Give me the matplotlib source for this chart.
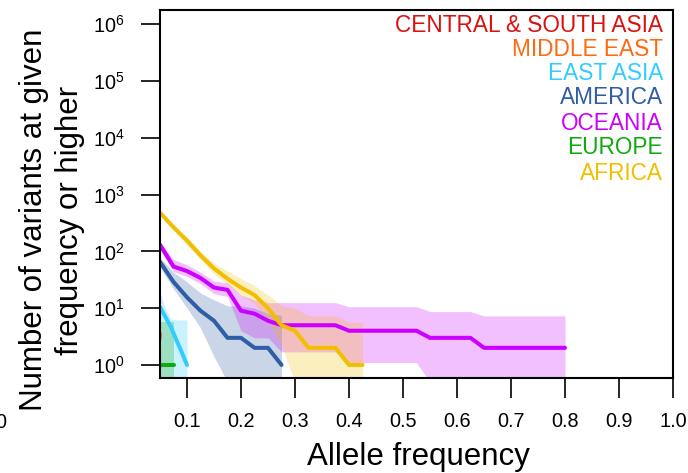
import matplotlib
matplotlib.use("Agg")
import matplotlib.pyplot as plt
import numpy as np

plt.rcParams['font.family'] = ['Liberation Sans', 'DejaVu Sans']
plt.rcParams['mathtext.fontset'] = 'custom'
plt.rcParams['mathtext.rm'] = 'Liberation Sans'
plt.rcParams['mathtext.it'] = 'Liberation Sans:italic'
plt.rcParams['mathtext.bf'] = 'Liberation Sans:bold'

# ---------------- data ----------------
regions = ["CENTRAL & SOUTH ASIA", "MIDDLE EAST", "EAST ASIA", "AMERICA",
           "OCEANIA", "EUROPE", "AFRICA"]
colors = ["#DD1010", "#FF6A10", "#33CCFF", "#2F5DA6", "#CC00FF", "#10AA10", "#F2BE00"]

csa_x, csa_y, csa_hi, csa_lo = [], [], [], []

me_x = [0.05]
me_y = [3.3]

ea_x = [0.05, 0.06, 0.07, 0.08, 0.09, 0.10]
ea_y = [10.5, 7, 4.7, 2.8, 1.7, 1]
ea_hi = [18.5, 10, 6.5, 6.2, 6.2, 6.2]
ea_lo = [0.3, 0.3, 0.3, 0.3, 0.3, 0.3]

am_x = [0.05, 0.075, 0.1, 0.125, 0.15, 0.175, 0.2, 0.225, 0.25, 0.275]
am_y = [65, 29, 15.5, 9, 6, 3, 3, 2, 2, 1]
am_hi = [78, 43, 29, 18.5, 14, 11, 11, 10, 8, 7.5]
am_lo = [52, 22, 10, 4.5, 1.4, 0.5, 0.3, 0.3, 0.3, 0.3]

oc_x = [0.05, 0.075, 0.1, 0.125, 0.15, 0.175, 0.2, 0.225, 0.25, 0.275,
        0.3, 0.325, 0.35, 0.375, 0.4, 0.425, 0.45, 0.475, 0.5, 0.525,
        0.55, 0.575, 0.6, 0.625, 0.65, 0.675, 0.7, 0.725, 0.75, 0.775, 0.8]
oc_y = [130, 54, 45, 34, 23, 21, 9, 8, 6, 5,
        5, 5, 5, 5, 4, 4, 4, 4, 4, 4,
        3, 3, 3, 3, 2, 2, 2, 2, 2, 2, 2]
oc_hi = [150, 72, 58, 43, 30, 28, 17, 14, 12.5, 12.5,
         12.5, 12.5, 12.5, 12.5, 10.6, 10.6, 10.6, 10.6, 10.6, 10.6,
         8.7, 8.7, 8.7, 8.7, 7.3, 7.3, 7.3, 7.3, 7.3, 7.3, 7.3]
oc_lo = [110, 44, 36, 27, 18, 16, 4, 3, 3, 1.7,
         1.7, 1.7, 1.7, 1.7, 1.1, 1.1, 1.1, 1.1, 1.1, 1.1,
         0.5, 0.5, 0.5, 0.5, 0.5, 0.5, 0.5, 0.5, 0.5, 0.5, 0.5]

eu_x = [0.05, 0.075]
eu_y = [1, 1]
eu_hi = [5.8, 5.8]
eu_lo = [0.3, 0.3]

af_x = [0.05, 0.075, 0.1, 0.125, 0.15, 0.175, 0.2, 0.225, 0.25, 0.275,
        0.3, 0.325, 0.35, 0.375, 0.4, 0.425]
af_y = [480, 265, 155, 85, 50, 33, 23, 17, 10, 5, 4, 2, 2, 2, 1, 1]
af_hi = [520, 290, 175, 100, 62, 45, 33, 25, 17, 11, 10, 7.3, 7.3, 7.3, 5.6, 5.6]
af_lo = [440, 240, 130, 72, 40, 26, 17, 12, 6, 2.2, 0.5, 0.3, 0.3, 0.3, 0.3, 0.3]

x_ticks = [0.1, 0.2, 0.3, 0.4, 0.5, 0.6, 0.7, 0.8, 0.9, 1.0]
x_ticklabels = ["0.1", "0.2", "0.3", "0.4", "0.5", "0.6", "0.7", "0.8", "0.9", "1.0"]
y_exps = [0, 1, 2, 3, 4, 5, 6]

series = [
    (csa_x, csa_y, csa_hi, csa_lo),
    (me_x, me_y, None, None),
    (ea_x, ea_y, ea_hi, ea_lo),
    (am_x, am_y, am_hi, am_lo),
    (oc_x, oc_y, oc_hi, oc_lo),
    (eu_x, eu_y, eu_hi, eu_lo),
    (af_x, af_y, af_hi, af_lo),
]

# ---------------- figure ----------------
W, H = 688, 473
fig = plt.figure(figsize=(W / 100, H / 100), dpi=100)
ax = fig.add_axes([160 / W, (H - 378) / H, (673 - 160) / W, (378 - 10) / H])
ax.set_yscale('log')
ax.set_xlim(0.05, 1.0)
ax.set_ylim(10 ** -0.23, 10 ** 6.25)

# bands
for (x, y, hi, lo), c in zip(series, colors):
    if hi is not None and len(x) > 0:
        ax.fill_between(x, lo, hi, color=c, alpha=0.25, linewidth=0)

# lines
for (x, y, hi, lo), c in zip(series, colors):
    if len(x) == 0:
        continue
    if len(x) == 1:
        ax.plot(x, y, marker='|', markersize=5, mew=2, color=c, linestyle='none')
    else:
        ax.plot(x, y, color=c, linewidth=2.9, solid_capstyle='round',
                solid_joinstyle='round')

# legend texts
leg_y = [26, 49, 74, 98, 123, 148, 173]
for name, c, yy in zip(regions, colors, leg_y):
    fig.text(663 / W, 1 - yy / H, name, color=c, fontsize=16.3,
             ha='right', va='center')

ax.set_xticks(x_ticks)
ax.set_xticklabels(x_ticklabels)
ax.set_yticks([10.0 ** e for e in y_exps])
ax.set_yticklabels([r'$10^{%d}$' % e for e in y_exps])
ax.minorticks_off()
ax.tick_params(axis='x', length=14.4, width=1.2, pad=10, labelsize=14.3)
ax.tick_params(axis='y', length=13.5, width=1.2, pad=12, labelsize=14.3)
for s in ax.spines.values():
    s.set_linewidth(1.5)

fig.text(6 / W, 1 - 422 / H, "0", fontsize=14.3, ha='right', va='center')

fig.text(418 / W, 1 - 465 / H, "Allele frequency", fontsize=22.5,
         ha='center', va='baseline')
fig.text(52 / W, 1 - 220 / H, "Number of variants at given\nfrequency or higher",
         fontsize=22.5, rotation=90, ha='center', va='center', linespacing=1.25,
         multialignment='center')

fig.savefig("out.png", dpi=100)
